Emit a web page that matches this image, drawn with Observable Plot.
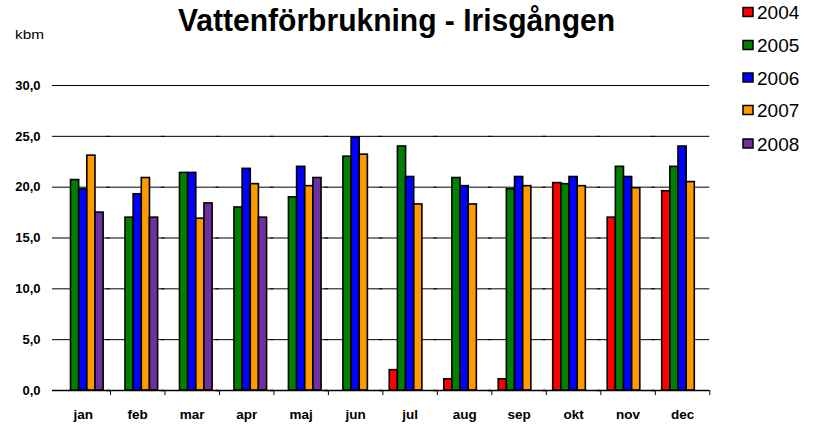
<!DOCTYPE html>
<html><head><meta charset="utf-8">
<script src="https://cdn.jsdelivr.net/npm/d3@7"></script>
<script src="https://cdn.jsdelivr.net/npm/@observablehq/plot@0.6"></script>
<style>
body{margin:0;background:#fff;}
#wrap{position:relative;width:817px;height:424px;font-family:"Liberation Sans",Arial,sans-serif;}
#chart,#overlay{position:absolute;left:0;top:0;}
</style></head><body>
<div id="wrap"><div id="chart"></div><svg id="overlay" width="817" height="424"></svg></div>
<script>
const months = ["jan","feb","mar","apr","maj","jun","jul","aug","sep","okt","nov","dec"];
const years = ["2004","2005","2006","2007","2008"];
const v2004 = [null,null,null,null,null,null,2.0,1.1,1.1,20.4,17.0,19.6];
const v2005 = [20.7,17.0,21.4,18.0,19.0,23.0,24.0,20.9,19.8,20.3,22.0,22.0];
const v2006 = [19.8,19.3,21.4,21.8,22.0,24.9,21.0,20.1,21.0,21.0,21.0,24.0];
const v2007 = [23.1,20.9,16.9,20.3,20.1,23.2,18.3,18.3,20.1,20.1,19.9,20.5];
const v2008 = [17.5,17.0,18.4,17.0,20.9,null,null,null,null,null,null,null];
const colors = ["#ff0000","#008000","#0000ff","#ff9900","#7030a0"];
const yTicks = [0,5,10,15,20,25,30];
const title = "Vattenförbrukning - Irisgången";
const unit = "kbm";

const series = [v2004,v2005,v2006,v2007,v2008];
const data = [];
years.forEach((y,i)=>months.forEach((m,j)=>{ if(series[i][j]!=null) data.push({month:m,year:y,value:series[i][j]}); }));

const W=817,H=424,mL=55.5,mR=107.7,mT=85,mB=34,padO=0.84;
const fxBand=(W-mL-mR)/months.length;
const step=fxBand/(years.length+2*padO);
const edge=step*(0.5+padO);
const font='"Liberation Sans",Arial,sans-serif';

const chart = Plot.plot({
  width:W,height:H,marginTop:mT,marginBottom:mB,marginLeft:mL,marginRight:mR,
  style:{fontFamily:font,background:"transparent",color:"black"},
  fx:{domain:months,padding:0,round:false,axis:null},
  x:{domain:years,paddingInner:0,paddingOuter:padO,round:false,axis:null},
  y:{domain:[0,30],axis:null},
  color:{domain:years,range:colors},
  marks:[
    Plot.ruleY(yTicks.filter(t=>t>0),{stroke:"black",strokeWidth:1,insetLeft:-3.5}),
    Plot.barY(data,{fx:"month",x:"year",y:"value",fill:"year",stroke:"black",strokeWidth:1.6}),
    Plot.ruleY([0],{stroke:"black",strokeWidth:1.5,insetLeft:-3.5}),
    Plot.ruleX(months.slice(1),{fx:d=>d,x:()=>years[0],y1:0,y2:-0.5,dx:-edge,stroke:"black",strokeWidth:1}),
    Plot.ruleX(months.slice(-1),{fx:d=>d,x:()=>years[years.length-1],y1:0,y2:-0.5,dx:edge,stroke:"black",strokeWidth:1}),
    Plot.axisY(yTicks,{tickSize:0,tickPadding:15.5,tickFormat:d=>d.toFixed(1).replace(".",","),fontSize:13,fontWeight:"bold",label:null}),
    Plot.axisFx({anchor:"bottom",tickSize:0,tickPadding:19,fontSize:13.5,fontWeight:"bold",label:null})
  ]
});
document.getElementById("chart").appendChild(chart);

const ov = d3.select("#overlay");
ov.append("text").attr("x",396.5).attr("y",31).attr("text-anchor","middle")
  .attr("font-family",font).attr("font-weight","bold").attr("font-size",32)
  .attr("textLength",437).attr("lengthAdjust","spacingAndGlyphs").text(title);
ov.append("text").attr("x",15).attr("y",39).attr("font-family",font).attr("font-size",12)
  .attr("textLength",29).attr("lengthAdjust","spacingAndGlyphs").text(unit);
const centers=[12,45,77.5,110,143.5];
years.forEach((y,i)=>{
  ov.append("rect").attr("x",743).attr("y",centers[i]-4.5).attr("width",10).attr("height",9)
    .attr("fill",colors[i]).attr("stroke","black").attr("stroke-width",1.5);
  ov.append("text").attr("x",757).attr("y",centers[i]+7).attr("font-family",font).attr("font-size",19).text(y);
});
</script>
</body></html>
